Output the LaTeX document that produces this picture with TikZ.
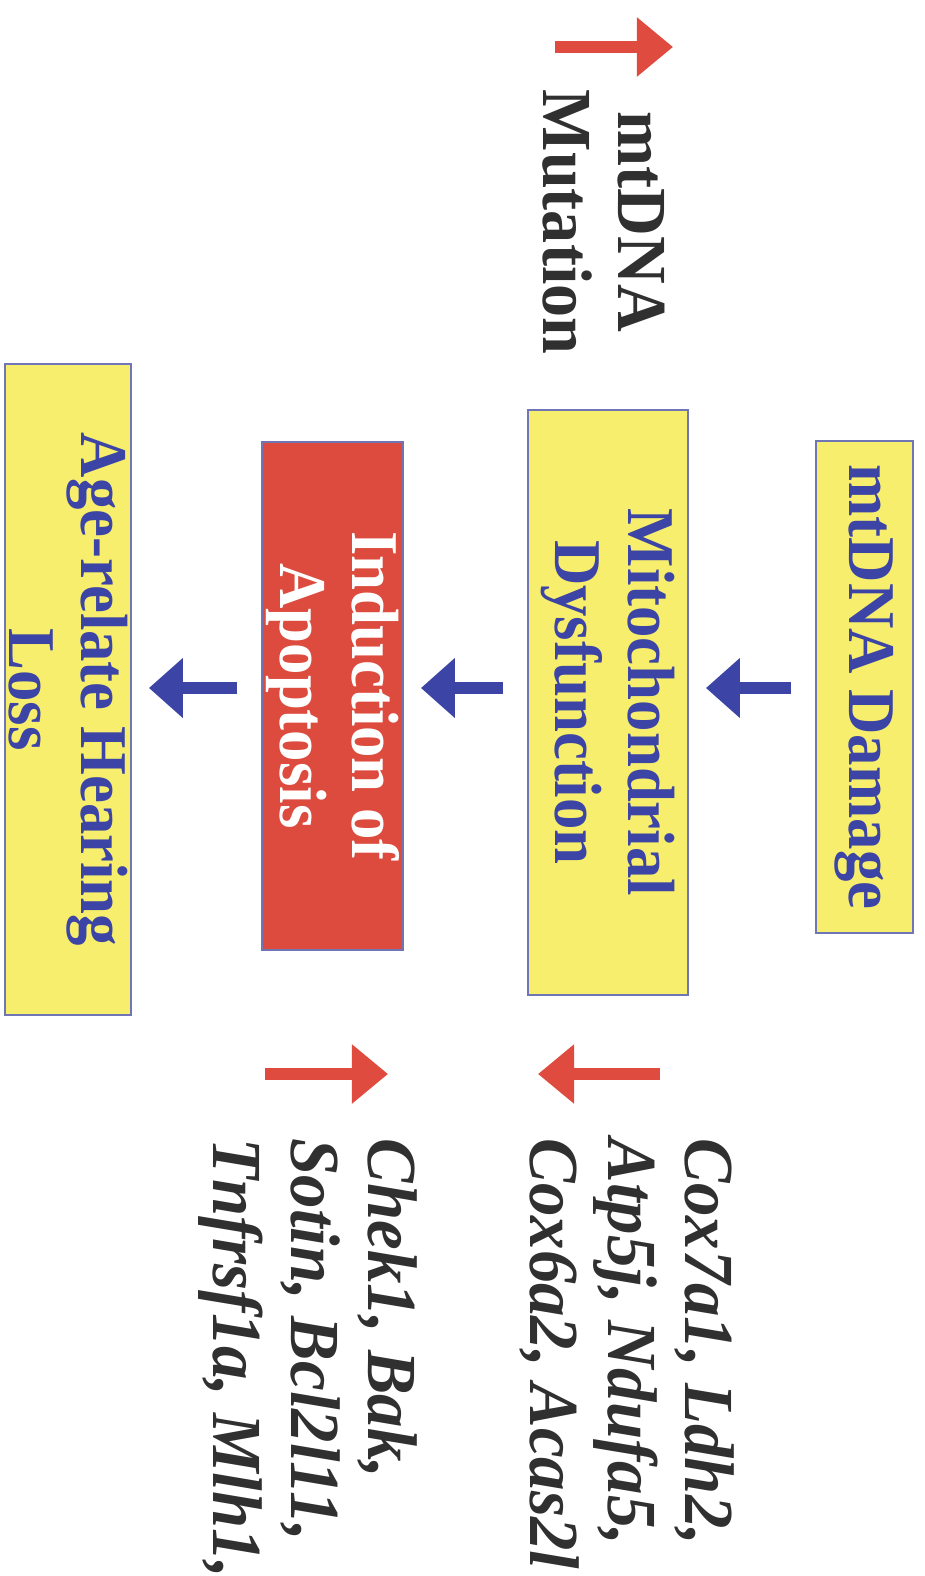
\documentclass[tikz,border=0pt]{standalone}
\usepackage{fontspec}
\setmainfont{Liberation Serif}
\newfontfamily\stagefont{Liberation Serif}[FakeStretch=0.94]
\newfontfamily\genefont{Liberation Serif}[FakeStretch=0.95]
\usetikzlibrary{arrows.meta}
\definecolor{boxyellow}{HTML}{F6EE6C}
\definecolor{boxred}{HTML}{DD4B3E}
\definecolor{flowblue}{HTML}{3C44A6}
\definecolor{upred}{HTML}{E04B3F}
\definecolor{edgeblue}{HTML}{7075B5}
\definecolor{genegray}{HTML}{303030}

\begin{document}
\begin{tikzpicture}[x=0.01cm,y=0.01cm,
    stage/.style={rotate=-90,draw=edgeblue,line width=0.5pt,fill=boxyellow,text=flowblue,
      font=\stagefont\fontsize{19}{20.5}\selectfont\bfseries,align=center,inner sep=0pt},
    flow/.style={line width=3.4pt,draw=flowblue,-{Triangle[width=0.58cm,length=0.34cm]},
      shorten <=0.24cm,shorten >=0.17cm},
    change/.style={line width=3.6pt,draw=upred,-{Triangle[width=0.57cm,length=0.36cm]}},
    genes/.style={rotate=-90,anchor=west,align=left,inner sep=0pt,text=genegray,
      font=\genefont\fontsize{20}{22}\selectfont\bfseries\itshape}]
  \useasboundingbox (0,0) rectangle (925,-1576);
  % the four stages
  \node[stage,minimum width=4.92cm,minimum height=0.97cm] (damage) at (864.5,-687) {mtDNA Damage};
  \node[stage,minimum width=5.85cm,minimum height=1.60cm] (dysfunc) at (608,-702.5) {Mitochondrial\\Dysfunction};
  \node[stage,fill=boxred,text=white,minimum width=5.08cm,minimum height=1.41cm] (apoptosis) at (332.5,-696) {Induction of\\Apoptosis};
  \node[stage,minimum width=6.51cm,minimum height=1.26cm] (hearing) at (68,-689.5) {Age-relate Hearing\\Loss};
  \path
  (damage.south |- 0,-688) edge [flow] (dysfunc.north |- 0,-688)
  (dysfunc.south |- 0,-688) edge [flow] (apoptosis.north |- 0,-688)
  (apoptosis.south |- 0,-688) edge [flow] (hearing.north |- 0,-688);
  % mutation and gene lists
  \node[rotate=-90,align=center,inner sep=0pt,text=genegray,
    font=\stagefont\fontsize{20}{21.3}\selectfont\bfseries] (mutation) at (604,-222) {mtDNA\\Mutation};
  \node[genes] (genesup) at (627,-1138) {Cox7a1, Ldh2,\\Atp5j, Ndufa5,\\Cox6a2, Acas2l};
  \node[genes] (genesdown) at (308,-1138) {Chek1, Bak,\\Sotin, Bcl2l11,\\Tnfrsf1a, Mlh1,};
  \coordinate (mutA) at (555,-47);
  \coordinate (mutB) at (673,-47);
  \coordinate (upA) at (660,-1074);
  \coordinate (upB) at (538,-1074);
  \coordinate (downA) at (265,-1074);
  \coordinate (downB) at (388,-1074);
  \draw[change] (mutA) -- (mutB);
  \draw[change] (upA) -- (upB);
  \draw[change] (downA) -- (downB);
\end{tikzpicture}
\end{document}
